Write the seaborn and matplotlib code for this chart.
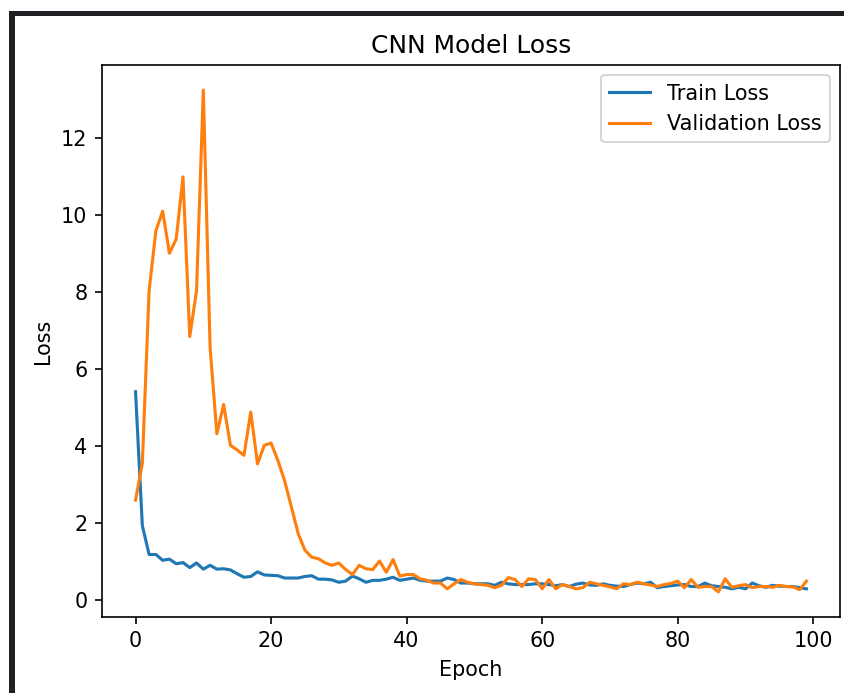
import numpy as np
import pandas as pd
import matplotlib
matplotlib.use("Agg")
import matplotlib.pyplot as plt
from matplotlib.patches import Rectangle
import seaborn as sns

# values
train_loss = [5.41, 1.94, 1.19, 1.19, 1.04, 1.07, 0.95, 0.98, 0.85, 0.97,
              0.81, 0.91, 0.81, 0.82, 0.79, 0.69, 0.60, 0.62, 0.74, 0.66,
              0.65, 0.64, 0.58, 0.58, 0.58, 0.62, 0.64, 0.55, 0.55, 0.53,
              0.47, 0.50, 0.63, 0.56, 0.47, 0.52, 0.52, 0.55, 0.60, 0.52,
              0.55, 0.58, 0.52, 0.50, 0.50, 0.50, 0.58, 0.54, 0.45, 0.45,
              0.43, 0.43, 0.43, 0.39, 0.47, 0.43, 0.41, 0.41, 0.41, 0.43,
              0.43, 0.41, 0.38, 0.41, 0.36, 0.42, 0.45, 0.40, 0.39, 0.43,
              0.39, 0.37, 0.36, 0.41, 0.45, 0.43, 0.47, 0.33, 0.36, 0.38,
              0.40, 0.41, 0.36, 0.36, 0.45, 0.38, 0.36, 0.34, 0.30, 0.34,
              0.30, 0.45, 0.38, 0.34, 0.39, 0.37, 0.36, 0.36, 0.33, 0.30]
val_loss = [2.60, 3.55, 8.03, 9.58, 10.09, 9.00, 9.37, 10.98, 6.84, 8.03,
            13.23, 6.56, 4.32, 5.08, 4.02, 3.90, 3.76, 4.88, 3.54, 4.02,
            4.08, 3.63, 3.10, 2.42, 1.73, 1.30, 1.12, 1.08, 0.97, 0.91,
            0.97, 0.80, 0.67, 0.91, 0.82, 0.80, 1.02, 0.73, 1.06, 0.63,
            0.67, 0.67, 0.56, 0.52, 0.45, 0.45, 0.30, 0.43, 0.54, 0.47,
            0.43, 0.41, 0.39, 0.33, 0.39, 0.59, 0.54, 0.36, 0.56, 0.54,
            0.30, 0.54, 0.30, 0.41, 0.36, 0.30, 0.33, 0.47, 0.43, 0.39,
            0.35, 0.30, 0.43, 0.41, 0.47, 0.43, 0.40, 0.36, 0.41, 0.44,
            0.50, 0.33, 0.54, 0.34, 0.36, 0.36, 0.22, 0.56, 0.34, 0.38,
            0.41, 0.33, 0.36, 0.36, 0.34, 0.39, 0.36, 0.35, 0.28, 0.50]
epochs = np.arange(len(train_loss))

df = pd.DataFrame({"Epoch": epochs, "Train Loss": train_loss, "Validation Loss": val_loss})

fig = plt.figure(figsize=(844 / 149, 693 / 149), dpi=149)
ax = fig.add_axes([102 / 844, 1 - 617 / 693, 738 / 844, 552 / 693])

sns.lineplot(data=df, x="Epoch", y="Train Loss", label="Train Loss", color="#1f77b4", ax=ax)
sns.lineplot(data=df, x="Epoch", y="Validation Loss", label="Validation Loss", color="#ff7f0e", ax=ax)

ax.set_title("CNN Model Loss")
ax.set_xlabel("Epoch")
ax.set_ylabel("Loss")
ax.legend(loc="upper right")

# dark screenshot frame at top and left
W, H = 844, 693
fig.add_artist(Rectangle((9 / W, 0), 6 / W, 1 - 11 / H, transform=fig.transFigure,
                         color="#1f2023", lw=0))
fig.add_artist(Rectangle((9 / W, 1 - 16 / H), 1 - 9 / W, 5 / H, transform=fig.transFigure,
                         color="#1f2023", lw=0))

fig.savefig("out.png", dpi=149)
